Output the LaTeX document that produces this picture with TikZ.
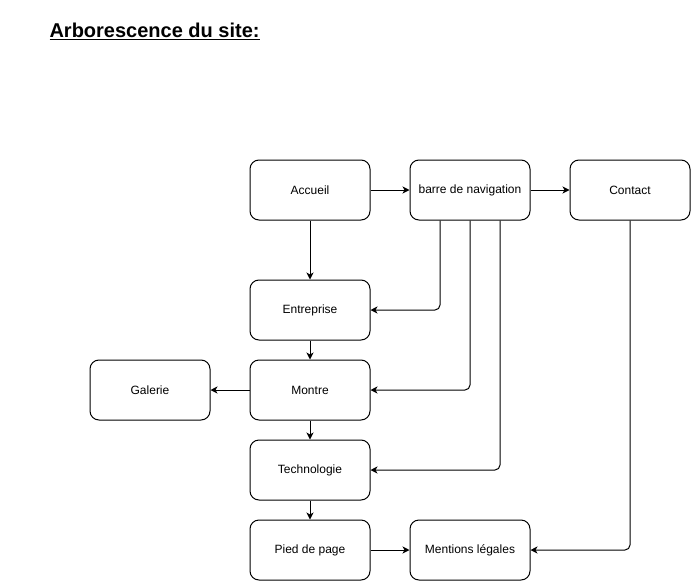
\documentclass[tikz,border=0pt]{standalone}
\usepackage{fontspec}
\setmainfont{Liberation Sans}
\usetikzlibrary{arrows.meta}

\tikzset{
  box/.style={draw, line width=1pt, rounded corners=9pt, minimum width=120pt, minimum height=60pt, font=\fontsize{12}{14}\selectfont},
  link/.style={line width=1pt, rounded corners=5pt, -{Stealth[length=7pt,width=7pt,inset=2pt]}}
}

\begin{document}
\begin{tikzpicture}[x=1pt,y=-1pt]

        \useasboundingbox (0,0) rectangle (691,581);

        \node[anchor=west, font=\fontsize{20}{24}\selectfont\bfseries] (title) at (46,31) {\underline{Arborescence du site:}};

        % top row
        \node[box] (accueil) at (310,190) {Accueil};
        \node[box] (nav) at (470,190) {barre de navigation};
        \node[box] (contact) at (630,190) {Contact};

        % column of pages
        \node[box] (entreprise) at (310,310) {Entreprise};
        \node[box] (montre) at (310,390) {Montre};
        \node[box] (galerie) at (150,390) {Galerie};
        \node[box] (techno) at (310,470) {Technologie};
        \node[box] (pied) at (310,550) {Pied de page};
        \node[box] (mentions) at (470,550) {Mentions légales};

        \draw[link] (accueil) -- (nav);
        \draw[link] (nav) -- (contact);
        \draw[link] (accueil) -- (entreprise);
        \draw[link] (entreprise) -- (montre);
        \draw[link] (montre) -- (galerie);
        \draw[link] (montre) -- (techno);
        \draw[link] (techno) -- (pied);
        \draw[link] (pied) -- (mentions);

        % links from the navigation bar
        \draw[link] ([xshift=-30pt]nav.south) |- (entreprise.east);
        \draw[link] (nav.south) |- (montre.east);
        \draw[link] ([xshift=30pt]nav.south) |- (techno.east);
        \draw[link] (contact.south) |- (mentions.east);

    \end{tikzpicture}
\end{document}
